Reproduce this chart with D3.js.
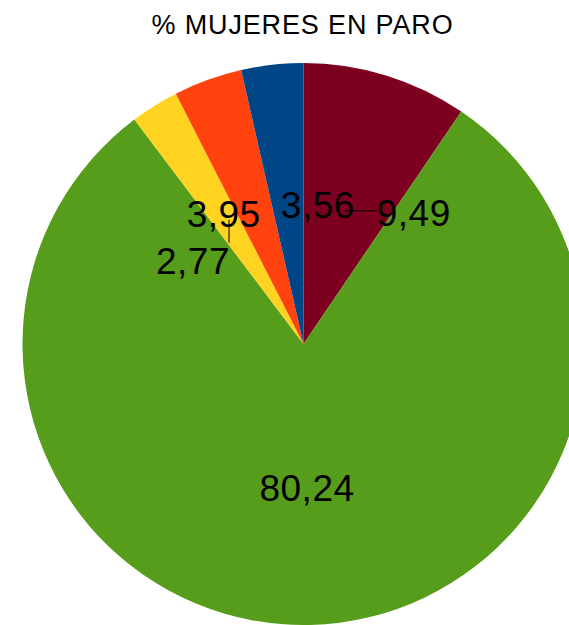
<!DOCTYPE html>
<html>
<head>
<meta charset="utf-8">
<script src="https://cdn.jsdelivr.net/npm/d3@7"></script>
<style>
  html, body { margin: 0; padding: 0; background: #ffffff; overflow: hidden; }
  svg { display: block; }
</style>
</head>
<body>
<div id="chart"></div>
<script>
// ---- data ----
const title = "% MUJERES EN PARO";
const categories = ["A", "B", "C", "D", "E"];
const values = [9.49, 80.24, 2.77, 3.95, 3.56];
const labels = ["9,49", "80,24", "2,77", "3,95", "3,56"];
const colors = ["#7E0021", "#579D1C", "#FFD320", "#FF420E", "#004586"];

// ---- layout (label shifts from slice centroid, in px) ----
const labelShift = [[69, 3], [0, 3], [-36, 35.5], [-32, 1.5], [30, 0]];
const leader = ["h", null, "v", null, null];

const W = 569, H = 625;
const cx = 303.5, cy = 344, R = 281;

const svg = d3.select("#chart").append("svg")
  .attr("width", W).attr("height", H);

svg.append("text")
  .attr("x", 302.5).attr("y", 34)
  .attr("text-anchor", "middle")
  .style("font-family", "'Liberation Sans', Arial, sans-serif")
  .style("font-size", "27px")
  .style("letter-spacing", "0.85px")
  .attr("fill", "#000")
  .text(title);

const pie = d3.pie().sort(null).value(d => d)(values);
const arc = d3.arc().innerRadius(0).outerRadius(R);
const cArc = d3.arc().innerRadius(0).outerRadius(R);

const g = svg.append("g").attr("transform", `translate(${cx},${cy})`);

g.selectAll("path.slice").data(pie).join("path")
  .attr("class", "slice")
  .attr("d", arc)
  .attr("fill", (d, i) => colors[i]);

const lg = g.append("g");
pie.forEach((d, i) => {
  const c = cArc.centroid(d);
  const lx = c[0] + labelShift[i][0];
  const ly = c[1] + labelShift[i][1];
  const t = lg.append("text")
    .attr("x", lx).attr("y", ly)
    .attr("dy", "0.36em")
    .attr("text-anchor", "middle")
    .style("font-family", "'Liberation Sans', Arial, sans-serif")
    .style("font-size", "37px")
    .style("letter-spacing", "0.5px")
    .attr("fill", "#000")
    .text(labels[i]);
  const bb = t.node().getBBox();
  if (leader[i] === "h") {
    lg.insert("line", "text")
      .attr("x1", c[0]).attr("y1", c[1] + 1)
      .attr("x2", bb.x).attr("y2", c[1] + 1)
      .attr("stroke", "#000").attr("stroke-width", 1);
  } else if (leader[i] === "v") {
    lg.insert("line", "text")
      .attr("x1", c[0]).attr("y1", c[1] - 5)
      .attr("x2", c[0]).attr("y2", bb.y + 2)
      .attr("stroke", "#000").attr("stroke-width", 1);
  }
});
</script>
</body>
</html>
